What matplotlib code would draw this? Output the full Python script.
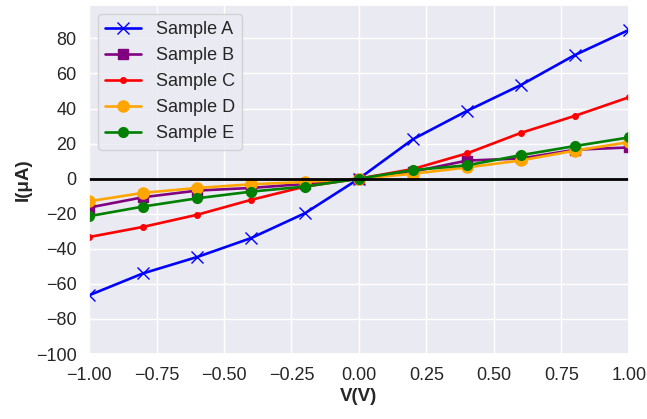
import numpy as np
import matplotlib
matplotlib.use("Agg")
import matplotlib.pyplot as plt
import seaborn as sns

# I-V data
voltage = [-1.0, -0.8, -0.6, -0.4, -0.2, 0.0, 0.2, 0.4, 0.6, 0.8, 1.0]
sample_a = [-66.5, -54, -44.7, -33.9, -19.7, 0, 22.5, 38.6, 53.4, 70.5, 84.8]
sample_b = [-16.5, -10.6, -6.8, -5.3, -3.0, 0, 4.0, 10.3, 11.5, 16.5, 17.8]
sample_c = [-33.3, -27.5, -20.6, -12.1, -4.5, 0, 5.5, 14.4, 26.1, 35.8, 46.4]
sample_d = [-12.9, -8.1, -5.3, -3.2, -1.9, 0, 2.8, 6.4, 10.4, 16.0, 20.8]
sample_e = [-21.4, -15.9, -11.2, -7.4, -4.5, 0, 4.9, 7.6, 13.4, 18.6, 23.5]

sns.set_theme(style="darkgrid")
plt.rcParams['font.family'] = ['Liberation Sans', 'DejaVu Sans']

fig = plt.figure(figsize=(6.47, 4.19), dpi=100)
ax = fig.add_axes([0.1376, 0.155, 0.8344, 0.833])

ax.plot(voltage, sample_a, color='blue', marker='x', markersize=8, lw=1.9, label='Sample A')
ax.plot(voltage, sample_b, color='purple', marker='s', markersize=7, lw=1.9, label='Sample B')
ax.plot(voltage, sample_c, color='red', marker='.', markersize=8, lw=1.9, label='Sample C')
ax.plot(voltage, sample_d, color='orange', marker='o', markersize=8, lw=1.9, label='Sample D')
ax.plot(voltage, sample_e, color='green', marker='o', markersize=7, lw=1.9, label='Sample E')
ax.axhline(0, color='black', lw=2)

ax.set_xlim(-1.0, 1.0)
ax.set_ylim(-100, 99)
ax.set_xticks(np.arange(-1.0, 1.01, 0.25))
ax.set_yticks(np.arange(-100, 81, 20))
ax.tick_params(labelsize=13, pad=3)
ax.set_xlabel('V(V)', fontsize=13.5, fontweight='bold', labelpad=3)
ax.set_ylabel('I(μA)', fontsize=13.5, fontweight='bold', labelpad=3)
ax.legend(loc='upper left', fontsize=13)

fig.savefig('out.png', dpi=100)
